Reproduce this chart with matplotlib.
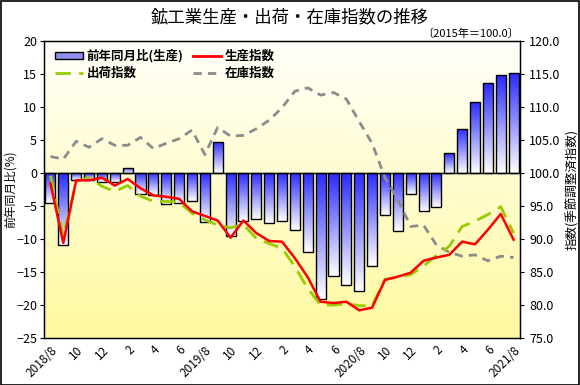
import numpy as np
import matplotlib
matplotlib.use("Agg")
import matplotlib.pyplot as plt
from matplotlib.colors import LinearSegmentedColormap
from matplotlib.patches import Patch
from matplotlib.lines import Line2D

plt.rcParams['font.family'] = ['Noto Sans CJK JP', 'DejaVu Sans']

# ------------------------------------------------------------
# データ (2018/8 〜 2021/8)
# ------------------------------------------------------------
months = ["2018/8", "9", "10", "11", "12", "1", "2", "3", "4", "5", "6", "7",
          "2019/8", "9", "10", "11", "12", "1", "2", "3", "4", "5", "6", "7",
          "2020/8", "9", "10", "11", "12", "1", "2", "3", "4", "5", "6", "7",
          "2021/8"]

yoy = [-4.6, -10.9, -1.1, -1.0, -1.3, -1.4, 0.8, -3.2, -3.4, -4.7, -4.5, -4.3,
       -7.4, 4.7, -9.6, -7.2, -7.0, -7.5, -7.3, -8.7, -12.0, -19.1, -15.6, -16.9,
       -17.9, -14.1, -6.3, -8.8, -3.2, -5.8, -5.2, 3.0, 6.7, 10.8, 13.6, 14.8,
       15.1]

production = [98.4, 89.4, 98.9, 98.9, 99.3, 98.1, 99.1, 97.7, 96.6, 96.4, 96.1, 94.2,
              93.5, 92.8, 90.2, 92.8, 90.9, 89.7, 89.6, 87.1, 84.2, 80.5, 80.3, 80.5,
              79.2, 79.6, 83.8, 84.3, 84.9, 86.7, 87.2, 87.6, 89.6, 89.2, 91.4, 93.8,
              89.9]

shipments = [99.6, 90.4, 98.7, 99.3, 98.0, 97.2, 98.1, 96.5, 95.7, 95.7, 95.6, 93.9,
             92.9, 92.1, 91.7, 92.2, 90.1, 89.3, 88.6, 85.8, 82.5, 80.0, 80.0, 80.2,
             79.9, 79.9, 83.9, 84.2, 84.6, 85.9, 87.5, 88.9, 91.9, 92.7, 93.7, 94.9,
             90.9]

inventory = [102.5, 102.1, 104.8, 103.9, 105.2, 104.2, 104.2, 105.4, 103.7, 104.5, 105.2, 106.5,
             102.8, 106.9, 105.6, 105.7, 106.7, 108.0, 109.9, 112.4, 112.9, 111.8, 112.2, 111.2,
             107.8, 104.5, 99.3, 96.0, 91.9, 92.1, 89.1, 88.0, 87.4, 87.6, 86.7, 87.4,
             87.2]

x = np.arange(len(months))

# ------------------------------------------------------------
# 図の作成
# ------------------------------------------------------------
fig = plt.figure(figsize=(5.8, 3.85), dpi=100)
fig.patch.set_facecolor("white")
fig.patches.append(plt.Rectangle((0.001, 0.001), 0.997, 0.996, transform=fig.transFigure,
                                 fill=False, edgecolor="black", linewidth=1.2))

ax = fig.add_axes([0.0759, 0.122, 0.8207, 0.7715])
ax.set_xlim(-0.5, len(months) - 0.5)
ax.set_ylim(-25, 20)

# 背景グラデーション
bg = LinearSegmentedColormap.from_list("bg", ["#fff9a0", "#fffffa"])
ax.imshow(np.linspace(0, 1, 256).reshape(-1, 1), cmap=bg, aspect="auto",
          extent=[-0.5, len(months) - 0.5, -25, 20], origin="lower", zorder=0)

# 棒グラフ(前年同月比) - 上が青、下が白
barcm = LinearSegmentedColormap.from_list("bar", ["#ffffff", "#2a2aff"])
bars = ax.bar(x, yoy, width=0.78, facecolor="none", edgecolor="black", linewidth=1.0, zorder=2)
for b in bars:
    x0, y0 = b.get_x(), b.get_y()
    w, h = b.get_width(), b.get_height()
    lo, hi = min(y0, y0 + h), max(y0, y0 + h)
    im = ax.imshow(np.linspace(0, 1, 128).reshape(-1, 1), cmap=barcm, aspect="auto",
                   extent=[x0, x0 + w, lo, hi], origin="lower", zorder=1.5)
    im.set_clip_path(b)
ax.axhline(0, color="black", linewidth=1.0, zorder=1.8)

ax.set_yticks(np.arange(-25, 21, 5))
ax.set_yticklabels([str(v).replace("-", "−") for v in range(-25, 21, 5)])
ax.set_ylabel("前年同月比(%)", fontsize=8.5)
ax.yaxis.set_label_coords(-0.056, 0.5)
ax.set_xticks(x[::2])
ax.set_xticklabels(months[::2], rotation=45, ha="right", rotation_mode="anchor", fontsize=8.5)
ax.tick_params(axis="y", labelsize=9, length=3, pad=2)
ax.tick_params(axis="x", length=0, pad=4)
for s in ax.spines.values():
    s.set_linewidth(1.0)

# 指数(右軸)
ax2 = ax.twinx()
ax2.set_ylim(75, 120)
ax2.set_yticks(np.arange(75, 121, 5))
ax2.set_yticklabels([f"{v:.1f}" for v in range(75, 121, 5)])
ax2.tick_params(axis="y", labelsize=9, length=3)
ax2.set_ylabel("指数(季節調整済指数)", fontsize=9, labelpad=4)

ax2.plot(x, inventory, color="#8c8c8c", linewidth=2, dashes=(3, 2.2), zorder=3)
ax2.plot(x, shipments, color="#99cc00", linewidth=2, dashes=(5.5, 3), zorder=3)
ax2.plot(x, production, color="#ff0000", linewidth=1.8, zorder=4)

# 凡例
handles = [
    Patch(facecolor="#8f8ff0", edgecolor="black", linewidth=1),
    Line2D([], [], color="#99cc00", linewidth=2, dashes=(5.5, 3)),
    Line2D([], [], color="#ff0000", linewidth=2),
    Line2D([], [], color="#8c8c8c", linewidth=2, dashes=(3, 2.2)),
]
labels = ["前年同月比(生産)", "出荷指数", "生産指数", "在庫指数"]
ax2.legend(handles, labels, ncol=2, loc="upper left", bbox_to_anchor=(0.0, 1.01),
           frameon=False, handlelength=2.2, handleheight=0.5,
           columnspacing=0.8, handletextpad=0.3, labelspacing=0.3,
           prop={"weight": "bold", "size": 9})

# タイトル
fig.text(0.5, 0.955, "鉱工業生産・出荷・在庫指数の推移", ha="center", va="center",
         fontsize=12.5)
fig.text(0.895, 0.912, "〔2015年＝100.0〕", ha="right", va="center", fontsize=8)

fig.savefig("out.png", dpi=100)
